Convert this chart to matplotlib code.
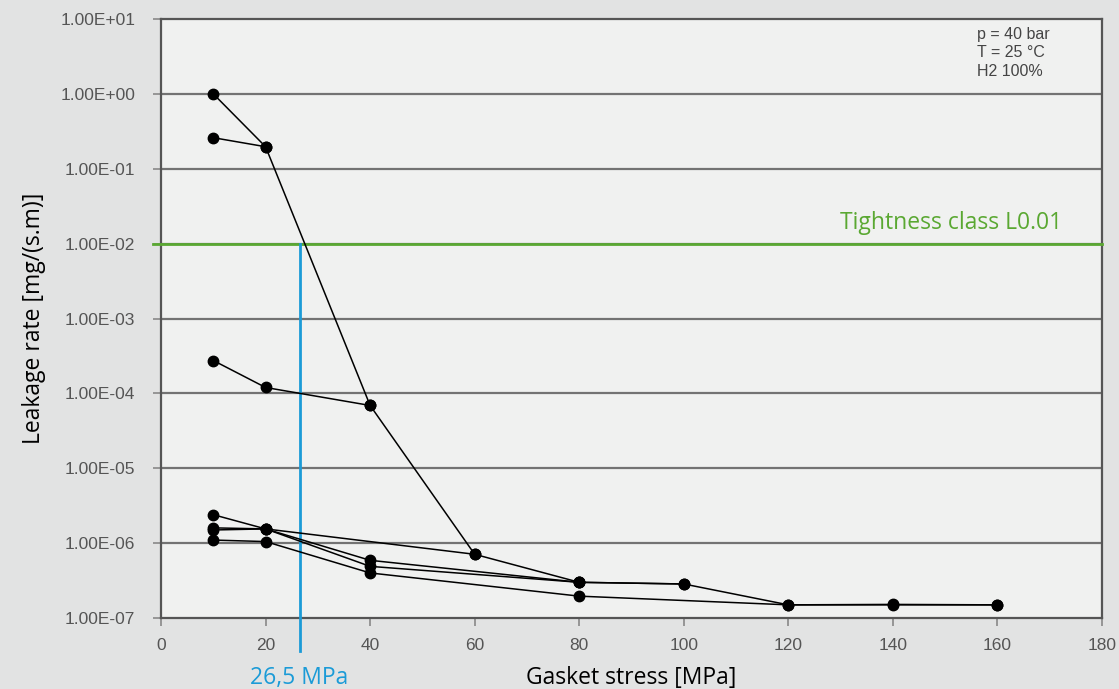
import matplotlib
matplotlib.use('Agg')
import matplotlib.pyplot as plt
from matplotlib.ticker import FixedLocator, FuncFormatter

# gasket stress [MPa] and leakage rate [mg/(s.m)] per test run
s1_x = [10, 20, 40, 60, 80, 100, 120, 140, 160]
s1_y = [1.0, 0.197, 6.9e-5, 7.1e-7, 3.0e-7, 2.85e-7, 1.5e-7, 1.5e-7, 1.5e-7]
s2_x = [10, 20]
s2_y = [0.26, 0.197]
s3_x = [10, 20, 40]
s3_y = [2.75e-4, 1.2e-4, 6.9e-5]
s4_x = [10, 20, 40, 80, 100]
s4_y = [2.4e-6, 1.55e-6, 5.9e-7, 3.0e-7, 2.85e-7]
s5_x = [10, 20, 60]
s5_y = [1.6e-6, 1.55e-6, 7.1e-7]
s6_x = [10, 20, 40, 80]
s6_y = [1.5e-6, 1.55e-6, 4.9e-7, 3.0e-7]
s7_x = [10, 20, 40, 80, 120, 140, 160]
s7_y = [1.1e-6, 1.05e-6, 4.0e-7, 1.96e-7, 1.5e-7, 1.52e-7, 1.5e-7]
series = [(s1_x, s1_y), (s2_x, s2_y), (s3_x, s3_y), (s4_x, s4_y),
          (s5_x, s5_y), (s6_x, s6_y), (s7_x, s7_y)]

y_ticks = [1e-7, 1e-6, 1e-5, 1e-4, 1e-3, 1e-2, 1e-1, 1e0, 1e1]
x_ticks = [0, 20, 40, 60, 80, 100, 120, 140, 160, 180]
tightness = 1e-2
stress_needed = 26.5

GRID = '#737373'
GREEN = '#5aa832'
BLUE = '#1b9bd7'

fig = plt.figure(figsize=(11.19, 6.89), dpi=100, facecolor='#e2e3e3')
ax = fig.add_axes([0.1439, 0.1030, 0.8409, 0.8694])
ax.set_facecolor('#f0f1f0')
ax.set_yscale('log')
ax.set_xlim(0, 180)
ax.set_ylim(1e-7, 1e1)

ax.yaxis.set_major_locator(FixedLocator(y_ticks))
ax.yaxis.set_minor_locator(FixedLocator([]))
ax.yaxis.set_major_formatter(FuncFormatter(lambda v, p: f'{v:.2E}'))
ax.xaxis.set_major_locator(FixedLocator(x_ticks))

for t in y_ticks[1:-1]:
    ax.axhline(t, color=GRID, lw=1.6, zorder=1)

for sp in ax.spines.values():
    sp.set_color('#555555')
    sp.set_linewidth(1.6)

ax.tick_params(axis='both', colors='#888888', length=5.5, width=1.2,
               labelcolor='#555555', labelsize=12.5)
for lab in ax.get_xticklabels() + ax.get_yticklabels():
    lab.set_fontfamily('Liberation Sans')
ax.tick_params(axis='x', pad=9)
ax.tick_params(axis='y', pad=13)

# tightness class line
ax.plot([-1.6, 180], [tightness, tightness], color=GREEN, lw=2, zorder=3, clip_on=False)
ax.text(172.3, 1.585e-2, 'Tightness class L0.01', color=GREEN, fontsize=16.5,
        family='Open Sans', ha='right', va='baseline')

# required gasket stress
ax.plot([stress_needed, stress_needed], [tightness, 3.6e-8], color=BLUE, lw=2,
        zorder=3, clip_on=False)
ax.text(stress_needed, 1.6e-8, '26,5 MPa', color=BLUE, fontsize=16.5, family='Open Sans',
        ha='center', va='center', clip_on=False)

for xs, ys in series:
    ax.plot(xs, ys, '-o', color='black', lw=1.1, markersize=7.5, zorder=4)

ax.text(0.867, 0.987, 'p = 40 bar\nT = 25 °C\nH2 100%', transform=ax.transAxes,
        fontsize=11.5, family='Liberation Sans', color='#444444', va='top', ha='left',
        linespacing=1.3)

ax.set_xlabel('Gasket stress [MPa]', fontsize=16.5, family='Open Sans', labelpad=9)
ax.set_ylabel('Leakage rate [mg/(s.m)]', fontsize=16.5, family='Open Sans', labelpad=10)

fig.savefig('out.png', dpi=100, facecolor=fig.get_facecolor())
